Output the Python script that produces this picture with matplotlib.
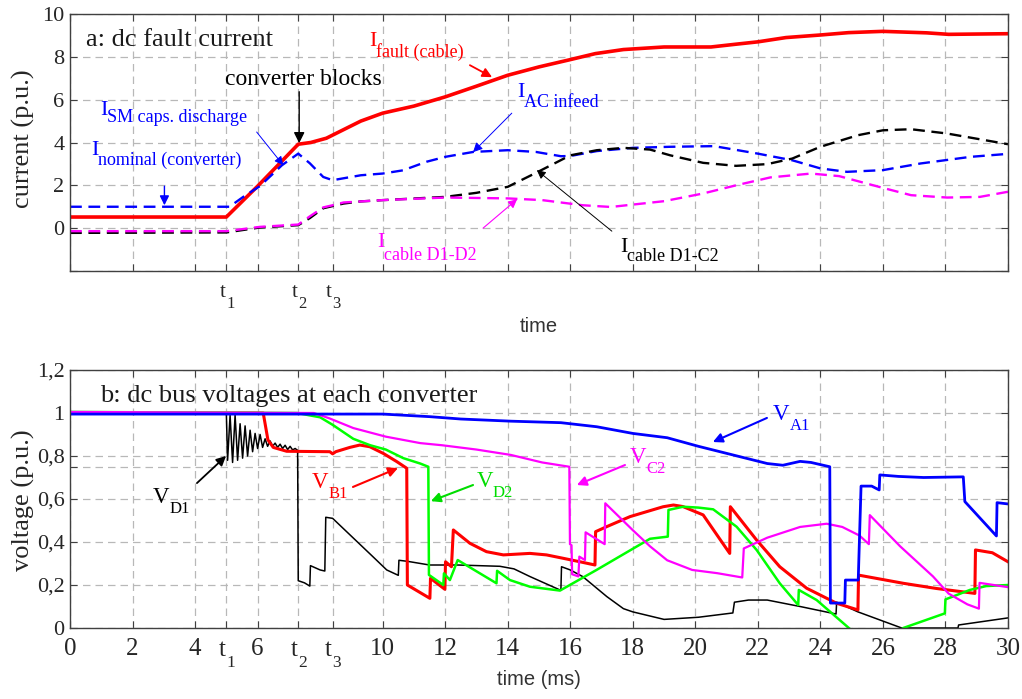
import numpy as np
import matplotlib
matplotlib.use("Agg")
import matplotlib.pyplot as plt

SERIF = "Liberation Serif"
SANS = "Liberation Sans"
plt.rcParams["font.family"] = [SERIF, "DejaVu Serif"]

# ---------------- panel a: dc fault currents (p.u.), (time ms, value) ----------------
i_fault = [(0, 0.52), (5.0, 0.52), (6.0, 1.96), (7.3, 3.92), (7.7, 4.0), (8.2, 4.2), (9.3, 5.0),
           (10.0, 5.37), (11.0, 5.7), (12.0, 6.13), (13.0, 6.63), (14.0, 7.14), (15.0, 7.53),
           (16.0, 7.87), (16.8, 8.15), (17.7, 8.34), (19.0, 8.46), (20.5, 8.46), (21.3, 8.59),
           (22.0, 8.7), (22.9, 8.9), (24.0, 9.02), (24.9, 9.13), (26.0, 9.19), (27.4, 9.12),
           (28.1, 9.05), (30.0, 9.08)]
i_ac = [(0, 1.0), (5.1, 1.0), (5.54, 1.46), (6.07, 1.96), (6.78, 2.94), (7.3, 3.48), (7.67, 3.03),
        (8.1, 2.39), (8.4, 2.24), (9.3, 2.47), (10.0, 2.55), (10.65, 2.7), (11.4, 3.1), (12.0, 3.33),
        (12.9, 3.56), (14.0, 3.64), (14.9, 3.56), (15.7, 3.36), (16.0, 3.37), (16.85, 3.6),
        (18.0, 3.75), (19.2, 3.8), (20.6, 3.83), (22.0, 3.48), (23.1, 3.17), (24.0, 2.79),
        (24.85, 2.63), (26.0, 2.71), (27.2, 3.02), (28.8, 3.33), (30.0, 3.47)]
i_d1c2 = [(0, -0.22), (5.0, -0.2), (6.07, 0.03), (7.3, 0.14), (7.67, 0.47), (8.1, 0.93), (8.75, 1.15),
          (9.3, 1.25), (10.0, 1.31), (12.0, 1.46), (13.0, 1.65), (14.0, 1.93), (14.9, 2.58),
          (16.0, 3.4), (16.85, 3.64), (17.7, 3.75), (18.55, 3.67), (19.2, 3.4), (20.25, 3.05),
          (21.3, 2.91), (22.3, 2.99), (23.1, 3.25), (24.0, 3.8), (25.2, 4.34), (26.0, 4.57),
          (26.9, 4.62), (28.05, 4.42), (30.0, 3.92)]
i_d1d2 = [(0, -0.14), (5.0, -0.14), (6.07, 0.06), (7.3, 0.17), (7.67, 0.55), (8.1, 0.97), (8.4, 1.07),
          (8.75, 1.2), (10.0, 1.31), (12.0, 1.43), (14.0, 1.39), (15.1, 1.31), (16.4, 1.07),
          (17.3, 0.99), (19.0, 1.26), (20.25, 1.62), (21.3, 2.0), (22.4, 2.37), (23.7, 2.55),
          (24.6, 2.43), (26.0, 1.88), (26.9, 1.54), (28.05, 1.43), (29.1, 1.46), (30.0, 1.7)]

# ---------------- panel b: dc bus voltages (p.u.), (time ms, value) ----------------
v_d1 = [(0, 1.0), (5.0, 1.0), (5.04, 0.78), (5.12, 0.99), (5.2, 0.77), (5.28, 0.99), (5.36, 0.78),
        (5.44, 0.95), (5.52, 0.79), (5.6, 0.94), (5.68, 0.8), (5.76, 0.92), (5.84, 0.82),
        (5.92, 0.905), (6.0, 0.835), (6.08, 0.9), (6.16, 0.84), (6.24, 0.88), (6.32, 0.845),
        (6.4, 0.87), (6.48, 0.845), (6.56, 0.86), (6.64, 0.84), (6.72, 0.855), (6.8, 0.835),
        (6.88, 0.85), (6.96, 0.83), (7.04, 0.845), (7.12, 0.828), (7.2, 0.835), (7.28, 0.826),
        (7.3, 0.22), (7.5, 0.21), (7.67, 0.195), (7.69, 0.29), (8.0, 0.27), (8.15, 0.265),
        (8.18, 0.515), (8.4, 0.51), (9.05, 0.42), (9.7, 0.33), (10.13, 0.27), (10.5, 0.245),
        (10.52, 0.315), (10.8, 0.31), (11.5, 0.293), (12.4, 0.293), (13.75, 0.287), (14.2, 0.275),
        (14.7, 0.24), (15.7, 0.175), (15.72, 0.285), (16.0, 0.27), (16.4, 0.239), (17.17, 0.146),
        (17.7, 0.09), (18.0, 0.075), (19.0, 0.04), (20.1, 0.05), (21.2, 0.07), (21.25, 0.12),
        (21.7, 0.13), (22.3, 0.13), (23.35, 0.1), (24.5, 0.065), (24.52, 0.12), (25.2, 0.075),
        (26.6, 0.0), (28.4, 0.0), (28.42, 0.014), (30.0, 0.047)]
v_b1 = [(0, 1.0), (6.18, 1.0), (6.33, 0.875), (6.5, 0.84), (6.93, 0.822), (8.31, 0.82), (8.4, 0.81),
        (8.5, 0.82), (8.95, 0.84), (9.27, 0.851), (9.59, 0.843), (10.02, 0.812), (10.45, 0.774),
        (10.77, 0.743), (10.79, 0.2), (11.51, 0.138), (11.53, 0.231), (11.99, 0.18), (12.01, 0.308),
        (12.2, 0.285), (12.26, 0.456), (12.79, 0.394), (13.32, 0.355), (13.86, 0.34), (14.71, 0.347),
        (15.24, 0.34), (15.78, 0.324), (16.31, 0.308), (16.79, 0.293), (16.81, 0.448), (17.16, 0.471),
        (17.91, 0.518), (18.97, 0.564), (19.3, 0.572), (19.6, 0.565), (20.25, 0.526), (20.8, 0.41),
        (21.1, 0.347), (21.12, 0.564), (21.96, 0.409), (22.7, 0.285), (23.56, 0.185), (24.52, 0.115),
        (25.2, 0.084), (25.22, 0.246), (26.65, 0.208), (27.7, 0.184), (28.94, 0.161), (28.96, 0.363),
        (29.5, 0.35), (30.0, 0.308)]
v_d2 = [(0, 1.005), (7.26, 1.0), (8.0, 0.98), (8.4, 0.945), (9.06, 0.88), (9.6, 0.85), (10.1, 0.83),
        (10.66, 0.79), (11.2, 0.765), (11.46, 0.75), (11.48, 0.247), (11.94, 0.2), (11.96, 0.254),
        (12.15, 0.223), (12.4, 0.316), (13.64, 0.208), (13.66, 0.266), (14.07, 0.223), (14.71, 0.192),
        (15.67, 0.174), (16.84, 0.27), (17.9, 0.36), (18.55, 0.415), (19.12, 0.425), (19.14, 0.549),
        (19.61, 0.564), (20.1, 0.56), (20.57, 0.552), (21.32, 0.471), (21.96, 0.363), (22.7, 0.208),
        (23.29, 0.107), (23.31, 0.177), (23.88, 0.13), (24.91, 0.0), (25.3, -0.05), (26.3, -0.05),
        (26.65, 0.0), (27.98, 0.068), (28.0, 0.133), (28.78, 0.177), (29.3, 0.195), (30.0, 0.2)]
v_c2 = [(0, 1.005), (7.8, 1.0), (8.3, 0.975), (9.06, 0.93), (10.1, 0.89), (11.2, 0.86), (11.9, 0.85),
        (13.0, 0.83), (14.1, 0.805), (15.1, 0.77), (15.97, 0.75), (15.99, 0.39), (16.04, 0.385),
        (16.06, 0.25), (16.26, 0.24), (16.29, 0.332), (16.47, 0.316), (16.49, 0.445), (17.1, 0.39),
        (17.12, 0.58), (18.0, 0.455), (18.55, 0.38), (19.1, 0.315), (19.9, 0.27), (20.7, 0.255),
        (21.5, 0.235), (21.55, 0.37), (22.3, 0.42), (23.35, 0.47), (24.2, 0.485), (24.7, 0.47),
        (25.25, 0.43), (25.55, 0.39), (25.58, 0.525), (26.55, 0.38), (27.6, 0.24), (28.1, 0.16),
        (28.7, 0.11), (29.07, 0.09), (29.09, 0.21), (30.0, 0.19)]
v_a1 = [(0, 0.995), (10.0, 0.995), (11.5, 0.983), (12.5, 0.972), (14.1, 0.962), (15.7, 0.955),
        (16.85, 0.936), (18.0, 0.905), (19.1, 0.885), (20.1, 0.845), (21.2, 0.805), (22.3, 0.765),
        (22.8, 0.757), (23.35, 0.775), (23.7, 0.77), (24.3, 0.75), (24.32, 0.116), (24.78, 0.116),
        (24.8, 0.223), (25.21, 0.223), (25.3, 0.66), (25.64, 0.66), (25.88, 0.642), (25.9, 0.712),
        (26.5, 0.705), (27.3, 0.7), (28.57, 0.703), (28.62, 0.588), (29.63, 0.428), (29.65, 0.583),
        (30.0, 0.577)]

# ---------------- ticks ----------------
t_events = [("1", 5.0), ("2", 7.3), ("3", 8.4)]
x_num_ticks = [0, 2, 4, 6, 10, 12, 14, 16, 18, 20, 22, 24, 26, 28, 30]
ya_ticks = [-2, 0, 2, 4, 6, 8, 10]
ya_labels = ["", "0", "2", "4", "6", "8", "10"]
yb_ticks = [0, 0.2, 0.4, 0.6, 0.75, 0.8, 1.0, 1.2]
yb_labels = ["0", "0,2", "0,4", "0,6", "", "0,8", "1", "1,2"]

TXT = "#262626"
fig = plt.figure(figsize=(10.22, 6.99), dpi=100)
axA = fig.add_axes([70 / 1022, 1 - 271 / 699, 938 / 1022, 257 / 699])
axB = fig.add_axes([70 / 1022, 1 - 628 / 699, 938 / 1022, 258 / 699])


def xy(series):
    a = np.array(series, dtype=float)
    return a[:, 0], a[:, 1]


def style(ax, xlabels, ylab_size):
    ticks = sorted(x_num_ticks + [t for _, t in t_events])
    ax.set_xlim(0, 30)
    ax.set_xticks(ticks)
    ax.set_xticklabels(xlabels)
    ax.tick_params(axis="both", direction="in", length=5, width=0.8, color="#404040",
                   top=True, right=True, labelcolor=TXT)
    ax.tick_params(axis="x", labelsize=18, pad=7)
    ax.tick_params(axis="y", labelsize=ylab_size, pad=4)
    for s in ax.spines.values():
        s.set_color("#404040")
        s.set_linewidth(1.0)
    ax.grid(True, color="#b8b8b8", linestyle=(0, (6, 4)), linewidth=0.9)
    ax.set_axisbelow(True)


def sublabel(ax, x, y, main, sub, color, ms, ss, drop):
    t = ax.text(x, y, main, color=color, fontsize=ms, ha="left", va="baseline", family=SERIF)
    ax.annotate(sub, xy=(1, 0), xycoords=t, xytext=(0, -drop), textcoords="offset points",
                color=color, fontsize=ss, ha="left", va="baseline", family=SERIF)


def arrow(ax, tail, head, color, lw, ms):
    ax.annotate("", xy=head, xytext=tail,
                arrowprops=dict(arrowstyle="-|>", color=color, lw=lw, mutation_scale=ms,
                                shrinkA=0, shrinkB=0))


def t_labels(ax, base, subb, tsize, ssize):
    for name, tx in t_events:
        ax.annotate("t", xy=(tx, 0), xycoords=ax.get_xaxis_transform(), xytext=(-0.5, base),
                    textcoords="offset points", ha="right", va="baseline", fontsize=tsize, color=TXT)
        ax.annotate(name, xy=(tx, 0), xycoords=ax.get_xaxis_transform(), xytext=(0, subb),
                    textcoords="offset points", ha="left", va="baseline", fontsize=ssize, color=TXT)


# ================= panel a =================
ticks_sorted = sorted(x_num_ticks + [t for _, t in t_events])
style(axA, [""] * len(ticks_sorted), 16)
axA.set_ylim(-2, 10)
axA.set_yticks(ya_ticks)
axA.set_yticklabels(ya_labels)

x, y = xy(i_fault)
axA.plot(x, y, color="#ff0000", lw=2.6, solid_joinstyle="round")
x, y = xy(i_ac)
axA.plot(x, y, color="#0000ff", lw=1.7, linestyle=(0, (5, 2.8)))
x, y = xy(i_d1c2)
axA.plot(x, y, color="#000000", lw=1.7, linestyle=(0, (5, 2.8)))
x, y = xy(i_d1d2)
axA.plot(x, y, color="#ff00ff", lw=1.7, linestyle=(0, (5, 2.8)))

axA.text(0.017, 0.875, "a: dc fault current", transform=axA.transAxes, fontsize=19,
         color="#1a1a1a", va="baseline")
axA.text(4.96, 6.67, "converter blocks", fontsize=17, color="#000000", va="baseline")
arrow(axA, (7.33, 6.37), (7.33, 3.97), "#000000", 1.0, 16)
sublabel(axA, 0.96, 5.27, "I", "SM caps. discharge", "#0000ff", 16, 13, 1.5)
arrow(axA, (5.97, 4.49), (6.82, 2.94), "#0000ff", 0.7, 13)
sublabel(axA, 0.67, 3.41, "I", "nominal (converter)", "#0000ff", 16, 13, 3.5)
arrow(axA, (3.02, 1.96), (3.02, 1.07), "#0000ff", 1.0, 14)
sublabel(axA, 9.56, 8.49, "I", "fault (cable)", "#ff0000", 16, 13, 4)
arrow(axA, (12.79, 7.61), (13.5, 7.05), "#ff0000", 1.3, 14)
sublabel(axA, 14.3, 6.11, "I", "AC infeed", "#0000ff", 16, 13, 3.5)
arrow(axA, (14.13, 5.37), (12.89, 3.55), "#0000ff", 0.7, 14)
sublabel(axA, 9.82, -0.89, "I", "cable D1-D2", "#ff00ff", 16, 13, 5.5)
arrow(axA, (13.21, 0.0), (14.3, 1.35), "#ff00ff", 0.8, 13)
sublabel(axA, 17.59, -1.12, "I", "cable D1-C2", "#000000", 16, 13, 3)
arrow(axA, (17.33, -0.14), (14.93, 2.71), "#000000", 0.7, 13)

t_labels(axA, -18.5, -26.9, 15, 12)
axA.set_ylabel("current (p.u.)", fontsize=19, color=TXT)
axA.yaxis.set_label_coords(-0.037, 0.514)
axA.set_xlabel("time", fontsize=14.5, family=SANS, color="#333333")
axA.xaxis.set_label_coords(0.5, -0.18)

# ================= panel b =================
labels_b = []
for tk in ticks_sorted:
    labels_b.append("" if tk in [t for _, t in t_events] else "%d" % tk)
style(axB, labels_b, 16)
axB.set_ylim(0, 1.2)
axB.set_yticks(yb_ticks)
axB.set_yticklabels(yb_labels)

x, y = xy(v_d1)
axB.plot(x, y, color="#000000", lw=1.1)
x, y = xy(v_b1)
axB.plot(x, y, color="#ff0000", lw=2.2)
x, y = xy(v_d2)
axB.plot(x, y, color="#00ff00", lw=1.8)
x, y = xy(v_c2)
axB.plot(x, y, color="#ff00ff", lw=1.6)
x, y = xy(v_a1)
axB.plot(x, y, color="#0000ff", lw=2.0)

axB.text(0.032, 0.876, "b: dc bus voltages at each converter", transform=axB.transAxes,
         fontsize=19, color="#1a1a1a", va="baseline")
sublabel(axB, 2.65, 0.581, "V", "D1", "#000000", 16.5, 12, 3.5)
arrow(axB, (4.06, 0.674), (4.99, 0.8), "#000000", 1.3, 14)
sublabel(axB, 7.74, 0.651, "V", "B1", "#ff0000", 16.5, 12, 3.5)
arrow(axB, (9.05, 0.656), (10.49, 0.744), "#ff0000", 1.5, 14)
sublabel(axB, 13.0, 0.656, "V", "D2", "#00dd00", 16.5, 12, 3.5)
arrow(axB, (12.89, 0.665), (11.54, 0.59), "#00dd00", 1.5, 14)
sublabel(axB, 17.91, 0.767, "V", "C2", "#ff00ff", 16.5, 12, 3.5)
arrow(axB, (17.75, 0.758), (16.21, 0.665), "#ff00ff", 1.5, 14)
sublabel(axB, 22.48, 0.967, "V", "A1", "#0000ff", 16.5, 12, 3.5)
arrow(axB, (22.29, 0.977), (20.56, 0.865), "#0000ff", 1.5, 14)

t_labels(axB, -20.2, -28.0, 18, 12.5)
axB.set_ylabel("voltage (p.u.)", fontsize=19, color=TXT)
axB.yaxis.set_label_coords(-0.037, 0.496)
axB.set_xlabel("time (ms)", fontsize=14.5, family=SANS, color="#333333")
axB.xaxis.set_label_coords(0.5, -0.163)

fig.savefig("out.png", dpi=100)
